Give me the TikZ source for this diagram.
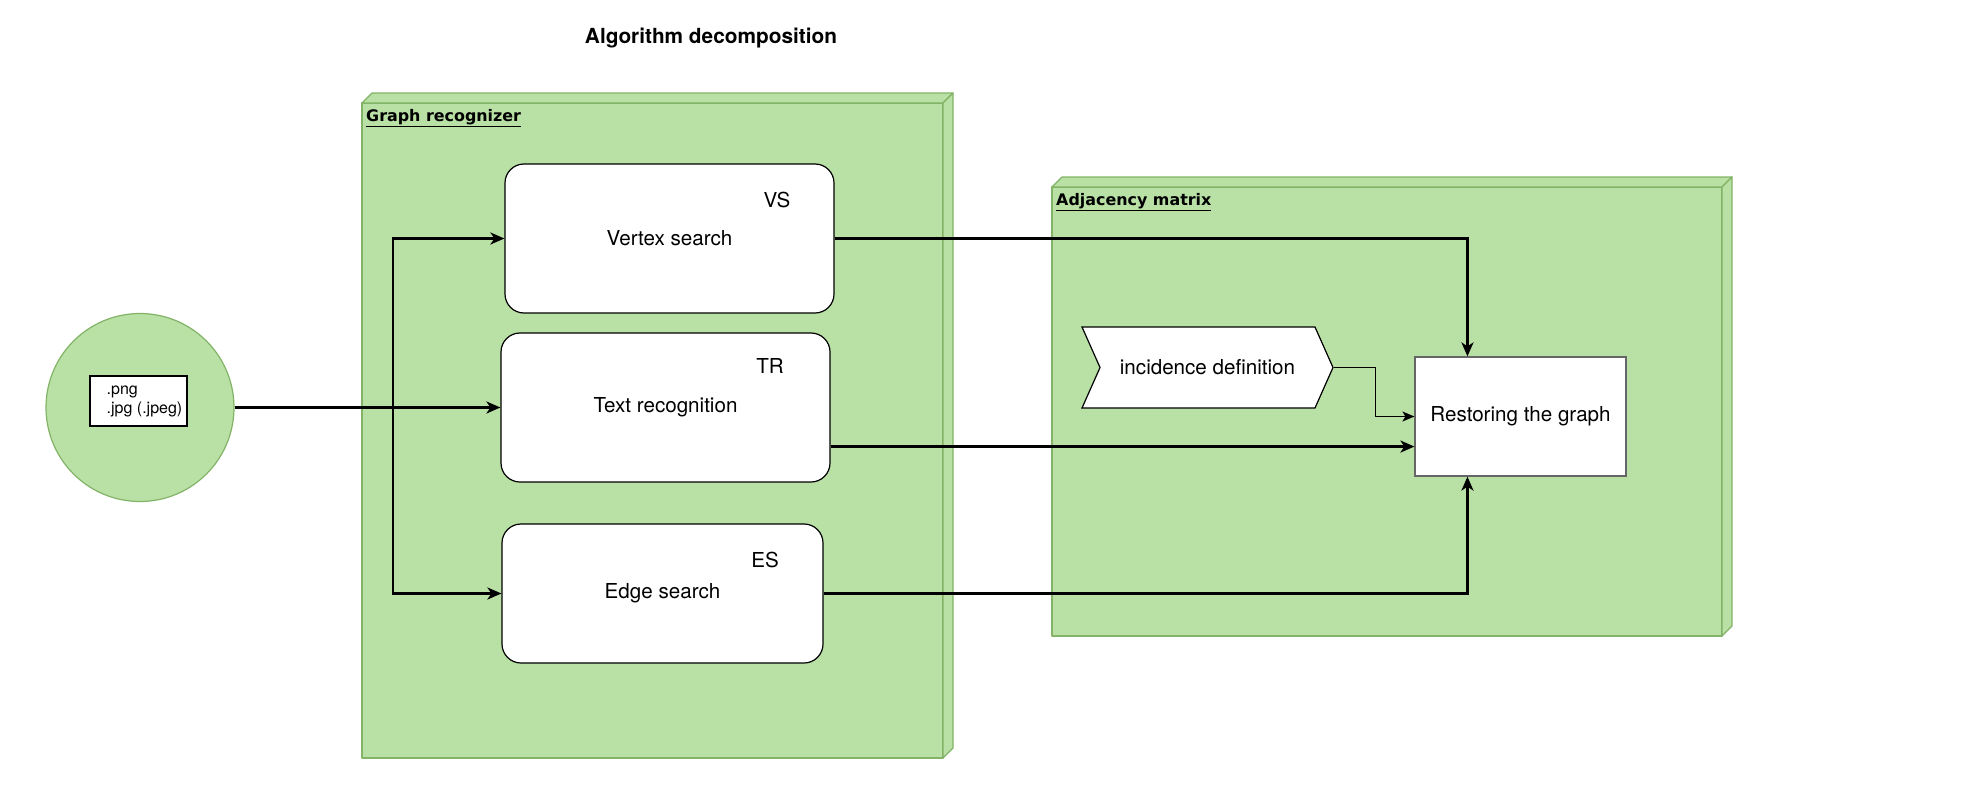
\documentclass[tikz,border=0pt]{standalone}
\usepackage{fontspec}
\setmainfont{TeX Gyre Heros}
\newfontfamily\panefont{DejaVu Sans}
\usepackage{tikz}
\usetikzlibrary{arrows.meta, positioning, calc, shapes.symbols}
\definecolor{panegreen}{HTML}{B9E0A5}
\definecolor{paneedge}{HTML}{82B366}

\begin{document}
\begin{tikzpicture}[x=1pt, y=-1pt,
  every node/.style={font=\fontsize{20.6}{24}\selectfont},
  pane/.style={fill=panegreen, draw=paneedge, line width=1.2pt, line join=round},
  panelabel/.style={anchor=west, inner sep=0pt, font=\panefont\bfseries\fontsize{15.9}{19}\selectfont},
  stage/.style={draw, fill=white, rounded corners=19pt, line width=1.2pt},
  tag/.style={inner sep=0pt},
  wire/.style={line width=2.5pt, -{Stealth[length=14pt, width=12pt, inset=4pt]}},
  thinwire/.style={line width=1.3pt, -{Stealth[length=12pt, width=10pt, inset=3pt]}}]
  \useasboundingbox (0,0) rectangle (1964,792);

  % Panes (3D boxes)
  \foreach \l/\t/\r/\b in {362/103/943/758, 1052/187/1722/636} {
    \draw[pane] (\l,\t) rectangle (\r,\b);
    \draw[pane] (\l,\t) -- (\l+10,\t-10) -- (\r+10,\t-10) -- (\r,\t) -- cycle;
    \draw[pane] (\r,\t) -- (\r+10,\t-10) -- (\r+10,\b-10) -- (\r,\b) -- cycle;
  }
  \node[font=\bfseries\fontsize{20.8}{24}\selectfont] (title) at (711,38) {Algorithm decomposition};
  \node[panelabel] (grlabel) at (366,118) {\underline{Graph recognizer}};
  \node[panelabel] (amlabel) at (1056,202) {\underline{Adjacency matrix}};

  % Input image
  \node[circle, fill=panegreen, draw=paneedge, line width=1.2pt, minimum size=188pt, inner sep=0pt] (img) at (140,407.5) {};
  \node[draw, fill=white, line width=1.2pt, minimum width=97pt, minimum height=50pt, inner xsep=2pt, align=left,
        font=\fontsize{16}{19}\selectfont] (fmt) at (138.5,401) {\hspace*{12pt}.png\\\hspace*{12pt}.jpg (.jpeg)};

  % Recognition stages
  \node[stage, minimum width=329pt, minimum height=149pt] (vs) at (669.5,238.5) {Vertex search};
  \node[stage, minimum width=329pt, minimum height=149pt] (tr) at (665.5,407.5) {Text recognition};
  \node[stage, minimum width=321pt, minimum height=139pt] (es) at (662.5,593.5) {Edge search};
  \node[tag] (vstag) at (777,200) {VS};
  \node[tag] (trtag) at (770,366) {TR};
  \node[tag] (estag) at (765,560) {ES};

  % Matrix stage
  \node[signal, signal to=east, signal from=west, signal pointer angle=132, draw, fill=white,
        line width=1.2pt, minimum width=251pt, minimum height=81pt] (inc) at (1207.5,367.5) {incidence definition};
  \node[draw=black!60, fill=white, line width=1.2pt, minimum width=211pt, minimum height=119pt] (rest) at (1520.5,416.5) {Restoring the graph};

  % Connectors
  \coordinate (split) at (393,407.5);
  \coordinate (rtop) at ($(rest.north west)!0.25!(rest.north east)$);
  \coordinate (rbot) at ($(rest.south west)!0.25!(rest.south east)$);
  \coordinate (rin) at ($(rest.north west)!0.75!(rest.south west)$);
  \draw[wire] (img) -- (tr);
  \draw[wire] (split) |- (vs.west);
  \draw[wire] (split) |- (es.west);
  \draw[wire] (vs.east) -| (rtop);
  \draw[wire] (tr.east |- rin) -- (rin);
  \draw[wire] (es.east) -| (rbot);
  \draw[thinwire] (inc.east) -- ++(42,0) |- (rest.west);
\end{tikzpicture}
\end{document}
